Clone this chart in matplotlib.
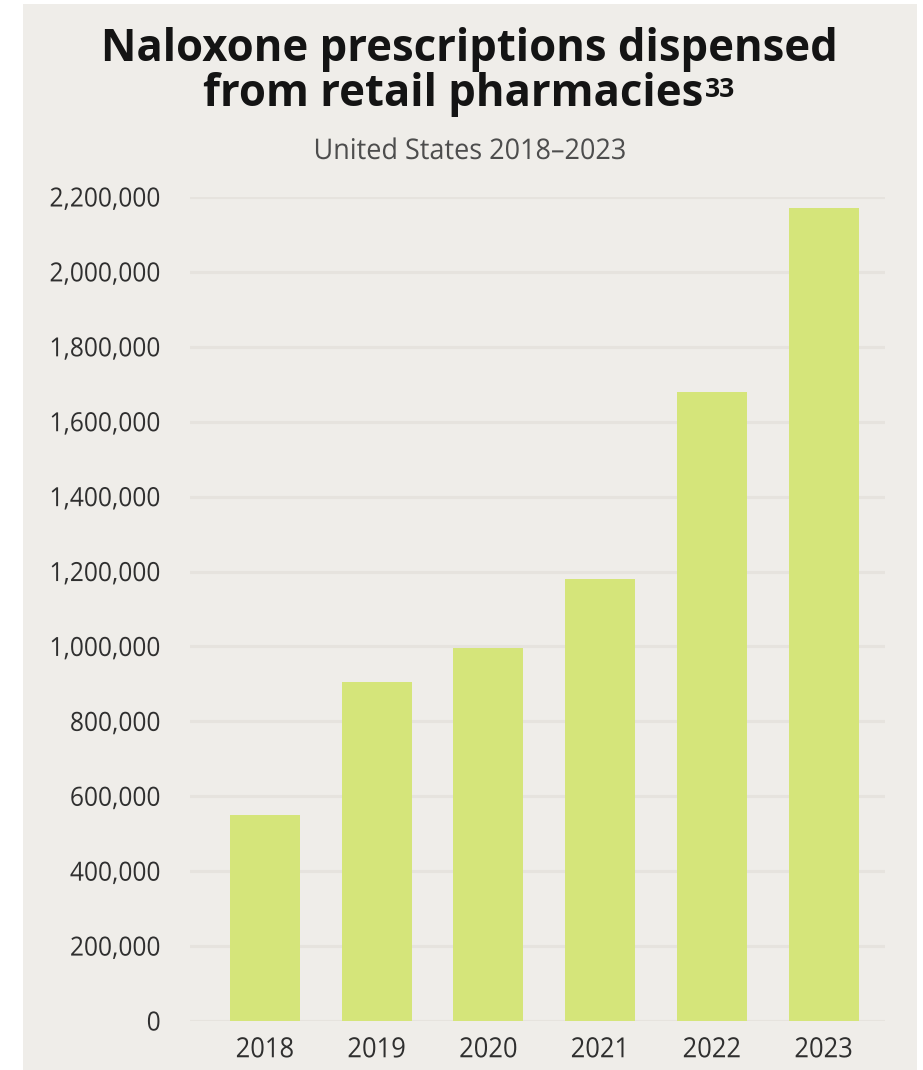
import matplotlib
matplotlib.use("Agg")
import matplotlib.pyplot as plt
from matplotlib.patches import Rectangle
from matplotlib.patheffects import AbstractPathEffect
from matplotlib.transforms import Affine2D
from matplotlib.ticker import FuncFormatter, MultipleLocator

# Data
years = ["2018", "2019", "2020", "2021", "2022", "2023"]
prescriptions = [550000, 905000, 995000, 1180000, 1680000, 2170000]

title_line1 = "Naloxone prescriptions dispensed"
title_line2 = "from retail pharmacies"
title_note = "33"
subtitle = "United States 2018\u20132023"

# Styling
BG = "#EFEDE9"
BAR = "#D5E57A"
GRID = "#E6E3DE"
TICK = "#2F2F2F"
FONT = ["Open Sans", "DejaVu Sans"]

W, H = 923, 1070


class Squeeze(AbstractPathEffect):
    """Horizontally condense a text path around its alignment point."""

    def __init__(self, sx, anchor="center"):
        super().__init__()
        self.sx = sx
        self.anchor = anchor

    def draw_path(self, renderer, gc, tpath, affine, rgbFace=None):
        ext = tpath.get_extents()
        if self.anchor == "right":
            cx = ext.x1
        elif self.anchor == "left":
            cx = ext.x0
        else:
            cx = 0.5 * (ext.x0 + ext.x1)
        t = Affine2D().translate(-cx, 0).scale(self.sx, 1).translate(cx, 0) + affine
        renderer.draw_path(gc, tpath, t, rgbFace)


fig = plt.figure(figsize=(W / 100, H / 100), dpi=100, facecolor="white")

# Panel background
fig.add_artist(Rectangle((23 / W, 0), (917 - 23) / W, (H - 4) / H,
                         transform=fig.transFigure, facecolor=BG,
                         edgecolor="none", zorder=-5))

ax = fig.add_axes([190 / W, (H - 1021) / H, (885 - 190) / W, (1021 - 197) / H])
ax.set_facecolor("none")

x = list(range(len(years)))
ax.bar(x, prescriptions, width=0.627, color=BAR, zorder=3)

ax.set_xlim(-0.67, 5.55)
ax.set_ylim(0, 2200000)
ax.yaxis.set_major_locator(MultipleLocator(200000))
ax.yaxis.set_major_formatter(FuncFormatter(lambda v, p: f"{int(v):,}"))
ax.set_xticks(x)
ax.set_xticklabels(years)

ax.grid(axis="y", color=GRID, linewidth=2.2, zorder=1)
ax.grid(axis="x", visible=False)
ax.set_axisbelow(True)
for s in ax.spines.values():
    s.set_visible(False)
ax.tick_params(axis="both", length=0, colors=TICK)
ax.tick_params(axis="y", pad=21, labelsize=19)
ax.tick_params(axis="x", pad=11, labelsize=20)
for lbl in ax.get_yticklabels():
    lbl.set_family(FONT)
    lbl.set_path_effects([Squeeze(0.93, "right")])
for lbl in ax.get_xticklabels():
    lbl.set_family(FONT)
    lbl.set_path_effects([Squeeze(0.92, "center")])

# Title block
t1 = fig.text(469 / W, 1 - 61 / H, title_line1, ha="center", va="baseline",
              fontsize=32, fontweight="bold", family=FONT, color="#141414")
t2 = fig.text(453 / W, 1 - 106 / H, title_line2, ha="center", va="baseline",
              fontsize=32, fontweight="bold", family=FONT, color="#141414")
st = fig.text(470 / W, 1 - 159 / H, subtitle, ha="center", va="baseline",
              fontsize=20.5, family=FONT, color="#4D4D4D")

fig.canvas.draw()
r = fig.canvas.get_renderer()

size_title = 32 * 738 / t1.get_window_extent(r).width
t1.set_fontsize(size_title)
t2.set_fontsize(size_title)
st.set_path_effects([Squeeze(313 / st.get_window_extent(r).width, "center")])

# Footnote marker after the second title line
fig.canvas.draw()
x2 = t2.get_window_extent(r).x1
nt = fig.text((x2 + 2) / W, 1 - 97 / H, title_note, ha="left", va="baseline",
              fontsize=19, fontweight="bold", family=FONT, color="#141414")

fig.savefig("out.png", dpi=100, facecolor="white")
